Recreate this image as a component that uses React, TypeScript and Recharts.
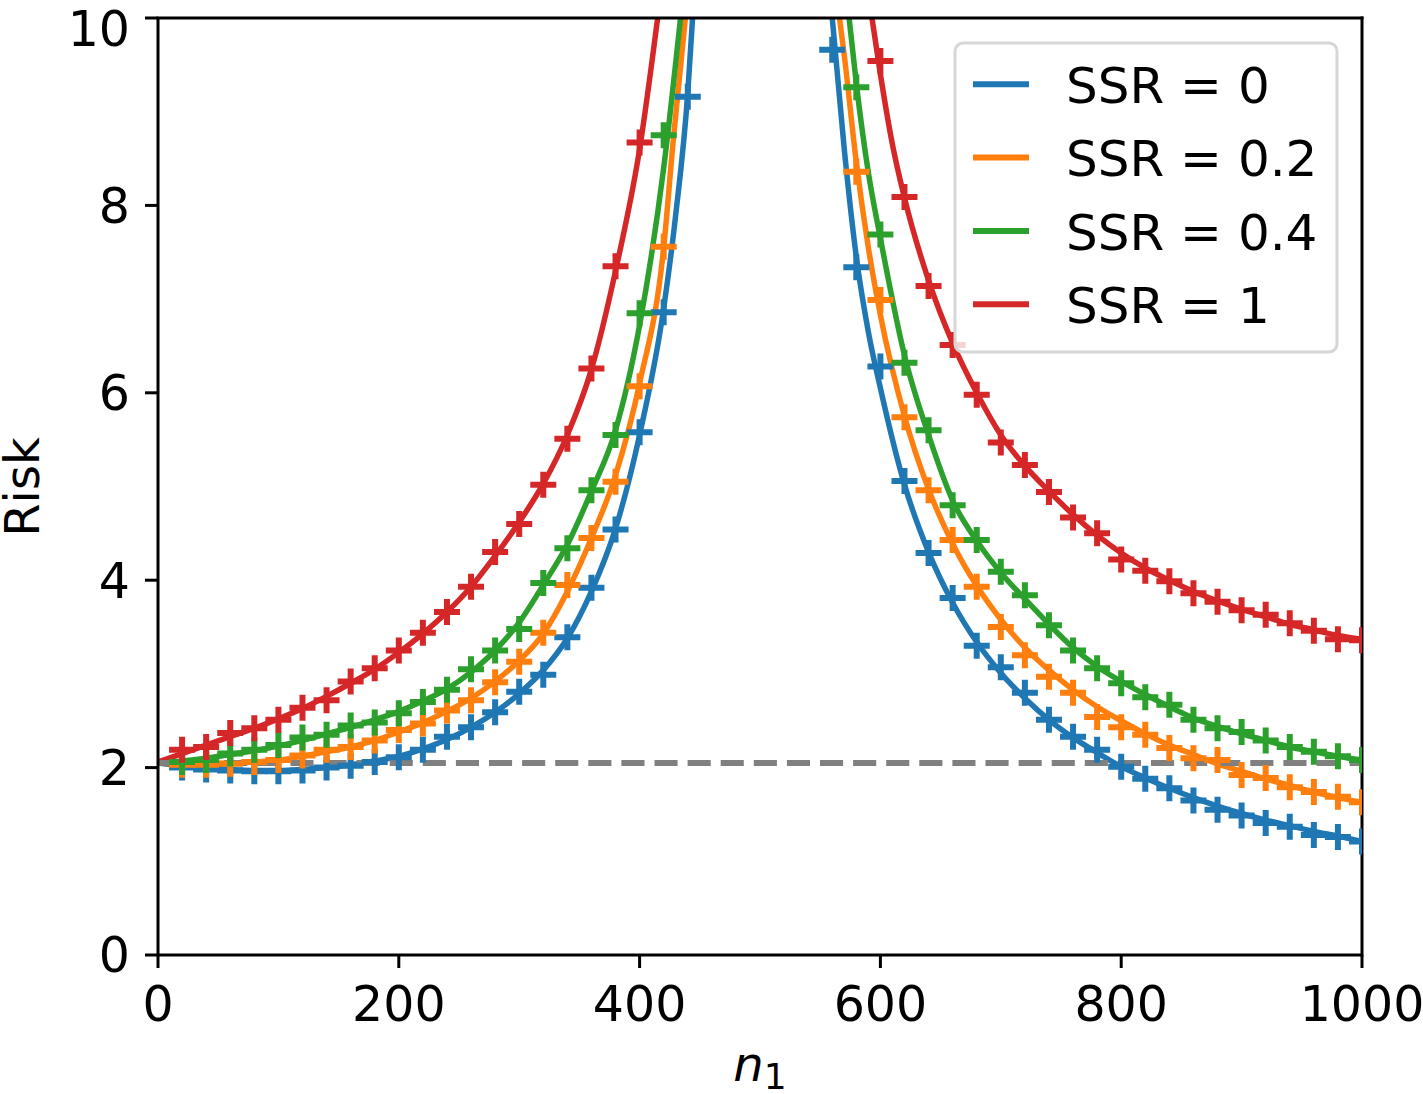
import { ComposedChart, Line, Scatter, XAxis, YAxis, ReferenceLine } from "recharts";

const FONT = "DejaVu Sans, Liberation Sans, sans-serif";

// x positions of the simulated points (n1)
const sampleN = [
  20, 40, 60, 80, 100, 120, 140, 160, 180, 200,
  220, 240, 260, 280, 300, 320, 340, 360, 380, 400,
  420, 440, 460, 480, 500, 520, 540, 560, 580, 600,
  620, 640, 660, 680, 700, 720, 740, 760, 780, 800,
  820, 840, 860, 880, 900, 920, 940, 960, 980, 1000,
];

// simulated risk (+ markers); null = above the plotted range
const markSsr0 = [
  2.0, 1.98, 1.97, 1.96, 1.96, 1.97, 2.0, 2.02, 2.06, 2.11,
  2.19, 2.33, 2.43, 2.59, 2.81, 2.99, 3.39, 3.92, 4.54, 5.58,
  6.86, 9.16, null, null, null, null, null, 9.66, 7.34, 6.28,
  5.06, 4.29, 3.81, 3.3, 3.07, 2.8, 2.51, 2.33, 2.19, 2.01,
  1.88, 1.78, 1.65, 1.55, 1.49, 1.41, 1.37, 1.28, 1.26, 1.21,
];
const markSsr02 = [
  2.03, 2.03, 2.04, 2.06, 2.08, 2.13, 2.19, 2.22, 2.29, 2.4,
  2.47, 2.61, 2.72, 2.91, 3.13, 3.44, 3.95, 4.45, 5.05, 6.07,
  7.56, null, null, null, null, null, null, null, 8.36, 6.99,
  5.74, 4.96, 4.43, 3.93, 3.5, 3.2, 2.97, 2.8, 2.54, 2.43,
  2.35, 2.21, 2.1, 2.08, 1.92, 1.89, 1.79, 1.74, 1.69, 1.63,
];
const markSsr04 = [
  2.06, 2.08, 2.15, 2.19, 2.24, 2.32, 2.35, 2.45, 2.48, 2.58,
  2.7, 2.83, 3.05, 3.25, 3.48, 3.97, 4.34, 4.96, 5.55, 6.85,
  8.75, null, null, null, null, null, null, null, 9.26, 7.69,
  6.32, 5.6, 4.8, 4.43, 4.09, 3.84, 3.52, 3.25, 3.06, 2.9,
  2.75, 2.67, 2.51, 2.42, 2.38, 2.29, 2.22, 2.17, 2.12, 2.08,
];
const markSsr1 = [
  2.19, 2.22, 2.37, 2.42, 2.51, 2.64, 2.72, 2.92, 3.06, 3.25,
  3.44, 3.66, 3.93, 4.3, 4.6, 5.02, 5.51, 6.26, 7.35, 8.67,
  null, null, null, null, null, null, null, null, null, 9.54,
  8.09, 7.14, 6.51, 5.98, 5.47, 5.23, 4.94, 4.67, 4.5, 4.22,
  4.1, 3.99, 3.86, 3.77, 3.68, 3.63, 3.54, 3.46, 3.37, 3.36,
];

// theoretical risk curves as [n1, risk]; [500, null] splits the two branches
const curveSsr0: [number, number | null][] = [
  [0, 2.05], [20, 2.02], [40, 2.0], [60, 1.98], [80, 1.97], [100, 1.97], [120, 1.98],
  [140, 2.0], [160, 2.03], [180, 2.07], [200, 2.12], [220, 2.2], [240, 2.3], [260, 2.43],
  [280, 2.59], [300, 2.79], [320, 3.04], [340, 3.38], [360, 3.88], [380, 4.55], [400, 5.55],
  [420, 6.9], [430, 7.9], [440, 9.2], [444, 10], [500, null],
  [560, 10], [570, 8.6], [580, 7.45], [590, 6.65], [600, 6.05], [620, 5.02], [640, 4.3],
  [660, 3.76], [680, 3.34], [700, 3.01], [720, 2.74], [740, 2.51], [760, 2.32], [780, 2.16],
  [800, 2.01], [820, 1.89], [840, 1.78], [860, 1.68], [880, 1.59], [900, 1.51], [920, 1.44],
  [940, 1.38], [960, 1.32], [980, 1.27], [1000, 1.21],
];
const curveSsr02: [number, number | null][] = [
  [0, 2.05], [20, 2.04], [40, 2.04], [60, 2.05], [80, 2.06], [100, 2.08], [120, 2.12],
  [140, 2.17], [160, 2.22], [180, 2.29], [200, 2.38], [220, 2.48], [240, 2.6], [260, 2.74],
  [280, 2.92], [300, 3.14], [320, 3.43], [340, 3.88], [360, 4.45], [380, 5.12], [400, 6.1],
  [420, 7.55], [428, 8.7], [438, 10], [500, null],
  [566, 10], [570, 9.6], [580, 8.46], [590, 7.55], [600, 6.83], [620, 5.75], [640, 4.97],
  [660, 4.39], [680, 3.94], [700, 3.58], [720, 3.28], [740, 3.04], [760, 2.83], [780, 2.65],
  [800, 2.5], [820, 2.36], [840, 2.24], [860, 2.14], [880, 2.04], [900, 1.96], [920, 1.88],
  [940, 1.81], [960, 1.74], [980, 1.68], [1000, 1.63],
];
const curveSsr04: [number, number | null][] = [
  [0, 2.05], [20, 2.07], [40, 2.1], [60, 2.14], [80, 2.18], [100, 2.23], [120, 2.29],
  [140, 2.36], [160, 2.43], [180, 2.51], [200, 2.6], [220, 2.71], [240, 2.84], [260, 3.02],
  [280, 3.25], [300, 3.55], [320, 3.95], [340, 4.38], [360, 4.95], [380, 5.6], [400, 6.72],
  [420, 8.4], [434, 10], [500, null],
  [574, 10], [580, 9.3], [590, 8.35], [600, 7.65], [620, 6.4], [640, 5.55], [660, 4.85],
  [680, 4.42], [700, 4.08], [720, 3.8], [740, 3.53], [760, 3.28], [780, 3.08], [800, 2.92],
  [820, 2.78], [840, 2.65], [860, 2.53], [880, 2.44], [900, 2.36], [920, 2.29], [940, 2.22],
  [960, 2.17], [980, 2.12], [1000, 2.08],
];
const curveSsr1: [number, number | null][] = [
  [0, 2.06], [20, 2.15], [40, 2.24], [60, 2.33], [80, 2.42], [100, 2.52], [120, 2.63],
  [140, 2.76], [160, 2.9], [180, 3.05], [200, 3.23], [220, 3.43], [240, 3.66], [260, 3.93],
  [280, 4.26], [300, 4.62], [320, 5.03], [340, 5.55], [360, 6.25], [380, 7.3], [400, 8.6],
  [415, 10], [500, null],
  [593, 10], [600, 9.4], [610, 8.65], [620, 8.08], [640, 7.2], [660, 6.53], [680, 6.0],
  [700, 5.55], [720, 5.22], [740, 4.95], [760, 4.7], [780, 4.48], [800, 4.29], [820, 4.13],
  [840, 4.0], [860, 3.88], [880, 3.78], [900, 3.69], [920, 3.61], [940, 3.53], [960, 3.47],
  [980, 3.41], [1000, 3.37],
];

const baselineRisk = 2.05;
const xTicks = [0, 200, 400, 600, 800, 1000];
const yTicks = [0, 2, 4, 6, 8, 10];

const series = [
  { name: "SSR = 0", color: "#1f77b4", curve: curveSsr0, marks: markSsr0 },
  { name: "SSR = 0.2", color: "#ff7f0e", curve: curveSsr02, marks: markSsr02 },
  { name: "SSR = 0.4", color: "#2ca02c", curve: curveSsr04, marks: markSsr04 },
  { name: "SSR = 1", color: "#d62728", curve: curveSsr1, marks: markSsr1 },
];

const toPoints = (pairs: [number, number | null][]) => pairs.map(([n, risk]) => ({ n, risk }));
const toMarks = (vals: (number | null)[]) =>
  sampleN.map((n, i) => ({ n, risk: vals[i] })).filter((p) => p.risk !== null);

function plusShape(color: string) {
  return (props: any) => {
    const { cx, cy } = props;
    if (cx == null || cy == null) return <g />;
    const h = 13;
    return (
      <path
        d={`M${cx - h},${cy}H${cx + h}M${cx},${cy - h}V${cy + h}`}
        stroke={color}
        strokeWidth={6}
        fill="none"
      />
    );
  };
}

const tickStyle = { fontSize: 49, fill: "#000", fontFamily: FONT };
const axisStroke = { stroke: "#000", strokeWidth: 3 };

export default function App() {
  return (
    <div style={{ position: "absolute", left: 0, top: 0, width: 1423, height: 1094, background: "#fff" }}>
      <ComposedChart width={1423} height={1094} margin={{ top: 18, right: 61, bottom: 0, left: 8 }}>
        <XAxis
          type="number"
          dataKey="n"
          domain={[0, 1000]}
          ticks={xTicks}
          allowDataOverflow
          height={139}
          tickSize={13}
          tickMargin={18}
          tick={tickStyle}
          axisLine={axisStroke}
          tickLine={axisStroke}
        />
        <YAxis
          type="number"
          domain={[0, 10]}
          ticks={yTicks}
          allowDataOverflow
          width={150}
          tickSize={13}
          tickMargin={15}
          tick={tickStyle}
          axisLine={axisStroke}
          tickLine={axisStroke}
        />
        {series.map((s) => [
          <Line
            key={s.name + "-curve"}
            data={toPoints(s.curve)}
            dataKey="risk"
            type="monotone"
            stroke={s.color}
            strokeWidth={5.5}
            dot={false}
            activeDot={false}
            connectNulls={false}
            isAnimationActive={false}
          />,
          <Scatter
            key={s.name + "-sim"}
            data={toMarks(s.marks)}
            dataKey="risk"
            fill={s.color}
            shape={plusShape(s.color)}
            isAnimationActive={false}
          />,
        ])}
        <ReferenceLine y={baselineRisk} stroke="#808080" strokeWidth={6} strokeDasharray="23.1 10" />
        <ReferenceLine y={10} stroke="#000" strokeWidth={3} strokeLinecap="square" />
        <ReferenceLine x={1000} stroke="#000" strokeWidth={3} strokeLinecap="square" />
      </ComposedChart>
      <svg
        width={1423}
        height={1094}
        style={{ position: "absolute", left: 0, top: 0, pointerEvents: "none" }}
        fontFamily={FONT}
      >
        <text transform="translate(39,487) rotate(-90)" textAnchor="middle" fontSize={48} fill="#000">
          Risk
        </text>
        <text x={760} y={1081} textAnchor="middle" fontSize={48} fill="#000">
          <tspan fontStyle="italic">n</tspan>
          <tspan fontSize={36} dy={8}>1</tspan>
        </text>
        <rect x={955} y={43} width={382} height={309} rx={8} fill="#fff" fillOpacity={0.8} stroke="#d6d6d6" strokeWidth={3} />
        {series.map((s, i) => (
          <g key={s.name}>
            <line x1={973} x2={1029} y1={84.3 + i * 73.3} y2={84.3 + i * 73.3} stroke={s.color} strokeWidth={6} />
            <text x={1066} y={103 + i * 73.3} fontSize={50} fill="#000">
              {s.name}
            </text>
          </g>
        ))}
      </svg>
    </div>
  );
}
